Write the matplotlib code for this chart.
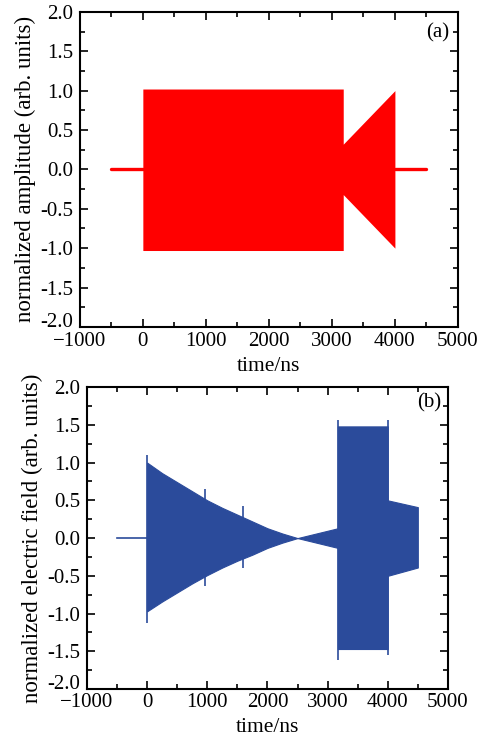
import matplotlib
matplotlib.use("Agg")
import matplotlib.pyplot as plt
from matplotlib.ticker import MultipleLocator, FormatStrFormatter

plt.rcParams['font.family'] = ['Liberation Serif', 'DejaVu Serif']
plt.rcParams['font.size'] = 15
plt.rcParams['axes.unicode_minus'] = True

# panel (a): amplitude envelope (red)
a_line_left_t = [-500, 0]
a_line_left_y = [0.0, 0.0]
a_line_right_t = [4000, 4500]
a_line_right_y = [0.0, 0.0]
a_env_t = [0, 3180, 3180, 4000]
a_env_upper = [1.02, 1.02, 0.32, 1.0]
a_env_lower = [-1.03, -1.03, -0.32, -1.0]

# panel (b): electric field envelope (blue)
b_line_t = [-500, 0]
b_line_y = [0.0, 0.0]
b_env_t = [0, 250, 500, 750, 1000, 1250, 1500, 1750, 2000, 2250, 2500,
           3170, 3170, 4000, 4000, 4500]
b_env_upper = [1.0, 0.86, 0.74, 0.62, 0.50, 0.40, 0.31, 0.22, 0.13, 0.06, 0.0,
               0.13, 1.48, 1.48, 0.50, 0.41]
b_env_lower = [-0.97, -0.84, -0.72, -0.60, -0.49, -0.39, -0.30, -0.22, -0.13, -0.06, 0.0,
               -0.13, -1.47, -1.47, -0.50, -0.39]
b_spike_t = [0, 960, 1600, 3170, 4000]
b_spike_upper = [1.10, 0.65, 0.42, 1.57, 1.57]
b_spike_lower = [-1.12, -0.63, -0.39, -1.61, -1.55]

RED = "#ff0000"
BLUE = "#2b4b9b"


def style_axes(ax, ylabel, tag, tag_xy, xpad):
    ax.set_xlim(-1000, 5000)
    ax.set_ylim(-2.0, 2.0)
    ax.xaxis.set_major_locator(MultipleLocator(1000))
    ax.xaxis.set_minor_locator(MultipleLocator(500))
    ax.yaxis.set_major_locator(MultipleLocator(0.5))
    ax.yaxis.set_minor_locator(MultipleLocator(0.25))
    ax.yaxis.set_major_formatter(FormatStrFormatter('%.1f'))
    ax.tick_params(which='both', direction='in', top=True, right=True, width=1.2)
    ax.tick_params(which='major', length=6)
    ax.tick_params(which='minor', length=3.5)
    ax.tick_params(axis='x', which='major', pad=xpad)
    ax.tick_params(axis='y', which='major', pad=5)
    for s in ax.spines.values():
        s.set_linewidth(1.5)
    ax.set_xlabel("time/ns", fontsize=15.5, labelpad=4)
    ax.set_ylabel(ylabel, fontsize=16.5, labelpad=3)
    ax.text(tag_xy[0], tag_xy[1], tag, transform=ax.transAxes,
            ha='right', va='center', fontsize=15)


fig = plt.figure(figsize=(4.78, 7.38), dpi=100)

ax1 = fig.add_axes([0.167, 0.557, 0.791, 0.427])
ax1.plot(a_line_left_t, a_line_left_y, color=RED, lw=2.4, solid_capstyle='round')
ax1.plot(a_line_right_t, a_line_right_y, color=RED, lw=2.4, solid_capstyle='round')
ax1.fill_between(a_env_t, a_env_lower, a_env_upper, color=RED, lw=0)
style_axes(ax1, "normalized amplitude (arb. units)", "(a)", (0.978, 0.933), 4)

ax2 = fig.add_axes([0.182, 0.0664, 0.755, 0.409])
ax2.plot(b_line_t, b_line_y, color=BLUE, lw=1.2)
ax2.fill_between(b_env_t, b_env_lower, b_env_upper, color=BLUE, lw=0.8, edgecolor=BLUE)
ax2.vlines(b_spike_t, b_spike_lower, b_spike_upper, color=BLUE, lw=1.2)
style_axes(ax2, "normalized electric field (arb. units)", "(b)", (0.982, 0.947), 3)

# lowest y label sits on the bottom spine, as in the reference
fig.canvas.draw()
for ax in (ax1, ax2):
    for tick in ax.yaxis.get_major_ticks():
        if abs(tick.get_loc() + 2.0) < 1e-9:
            tick.label1.set_verticalalignment('baseline')

fig.savefig("out.png", dpi=100)
